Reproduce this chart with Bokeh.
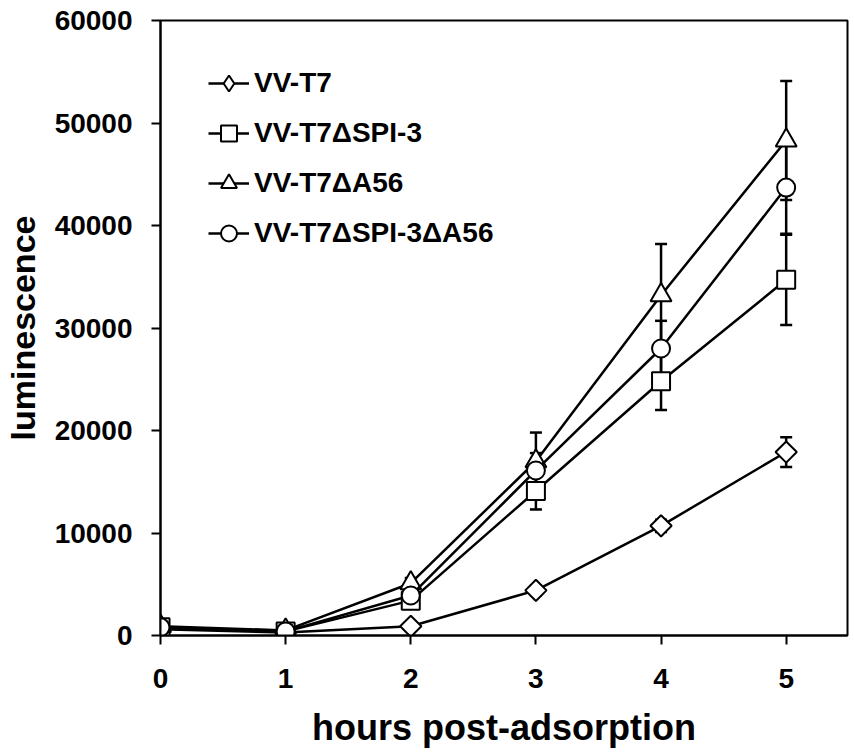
import numpy as np
from bokeh.plotting import figure
from bokeh.models import (ColumnDataSource, Whisker, TeeHead, FixedTicker, BasicTickFormatter,
                          Range1d, Legend)
from bokeh.embed import file_html
from bokeh.resources import INLINE

hours = [0, 1, 2, 3, 4, 5]
series_names = ["VV-T7", "VV-T7ΔSPI-3", "VV-T7ΔA56", "VV-T7ΔSPI-3ΔA56"]
vv_t7 = [600, 300, 900, 4400, 10700, 17900]
vv_t7_err = [150, 100, 200, 500, 600, 1450]
vv_spi3 = [800, 400, 3400, 14100, 24800, 34700]
vv_spi3_err = [200, 100, 400, 1800, 2800, 4400]
vv_a56 = [900, 500, 5100, 17000, 33200, 48300]
vv_a56_err = [200, 100, 500, 2800, 5000, 5800]
vv_spi3a56 = [800, 400, 3900, 16100, 28000, 43700]
vv_spi3a56_err = [200, 100, 400, 1700, 2700, 4500]
x_ticks = [0, 1, 2, 3, 4, 5]
y_ticks = [0, 10000, 20000, 30000, 40000, 50000, 60000]
x_title = "hours post-adsorption"
y_title = "luminescence"

FONT = "Liberation Sans"

p = figure(frame_width=687, frame_height=615, output_backend="svg", toolbar_location=None,
           x_range=Range1d(0, 5.49), y_range=Range1d(0, 60000),
           min_border_left=160, min_border_right=4, min_border_top=20, min_border_bottom=100)
# a range far away from the data, used only so the legend swatch of the diamond
# series has a renderer whose own marks fall outside the frame
p.extra_y_ranges = {"legend_only": Range1d(1e9, 2e9)}
p.xgrid.visible = False
p.ygrid.visible = False
p.outline_line_color = "black"
p.outline_line_width = 2
p.background_fill_color = "white"
p.border_fill_color = "white"

for ax in (p.xaxis[0], p.yaxis[0]):
    ax.axis_line_width = 2
    ax.axis_line_color = "black"
    ax.major_tick_line_width = 2
    ax.major_tick_line_color = "black"
    ax.major_tick_out = 9
    ax.major_tick_in = 0
    ax.minor_tick_line_color = None
    ax.major_label_text_font = FONT
    ax.major_label_text_font_style = "bold"
    ax.major_label_text_font_size = "28px"
    ax.major_label_text_color = "black"
    ax.axis_label_text_font = FONT
    ax.axis_label_text_font_style = "bold"
    ax.axis_label_text_color = "black"

p.xaxis[0].ticker = FixedTicker(ticks=x_ticks)
p.yaxis[0].ticker = FixedTicker(ticks=y_ticks)
p.yaxis[0].formatter = BasicTickFormatter(use_scientific=False)
p.xaxis[0].major_label_standoff = 24
p.yaxis[0].major_label_standoff = 19
p.xaxis[0].axis_label = x_title
p.yaxis[0].axis_label = y_title
p.xaxis[0].axis_label_text_font_size = "36px"
p.yaxis[0].axis_label_text_font_size = "34px"
p.xaxis[0].axis_label_standoff = 16
p.yaxis[0].axis_label_standoff = 10

specs = [
    (vv_t7, vv_t7_err, "square", 15, np.pi / 4),
    (vv_spi3, vv_spi3_err, "square", 18, 0.0),
    (vv_a56, vv_a56_err, "triangle", 21, 0.0),
    (vv_spi3a56, vv_spi3a56_err, "circle", 18, 0.0),
]

items = []
for i, (name, (vals, errs, marker, size, ang)) in enumerate(zip(series_names, specs)):
    lo = [v - e for v, e in zip(vals, errs)]
    hi = [v + e for v, e in zip(vals, errs)]
    src = ColumnDataSource(dict(x=hours, y=vals, lo=lo, hi=hi))
    w = Whisker(base="x", lower="lo", upper="hi", source=src, line_width=2.5, line_color="black",
                upper_head=TeeHead(size=12, line_width=2.5, line_color="black"),
                lower_head=TeeHead(size=12, line_width=2.5, line_color="black"))
    p.add_layout(w)
    l = p.line("x", "y", source=src, line_width=2.5, line_color="black")
    s = p.scatter("x", "y", source=src, marker=marker, size=size, angle=ang,
                  fill_color="white", line_color="black", line_width=2)
    if i == 0:
        s_leg = p.scatter("x", "y", source=src, marker="diamond", size=size,
                          fill_color="white", line_color="black", line_width=2,
                          y_range_name="legend_only")
        items.append((name, [l, s_leg]))
    else:
        items.append((name, [l, s]))

legend = Legend(items=items, location=(48, 382))
legend.glyph_width = 41
legend.glyph_height = 40
legend.label_height = 40
legend.spacing = 10
legend.padding = 0
legend.margin = 0
legend.label_standoff = 5
legend.label_text_font = FONT
legend.label_text_font_style = "bold"
legend.label_text_font_size = "28px"
legend.label_text_color = "black"
legend.border_line_alpha = 0
legend.background_fill_alpha = 0
p.add_layout(legend)

open("out.html", "w").write(file_html(p, INLINE))
